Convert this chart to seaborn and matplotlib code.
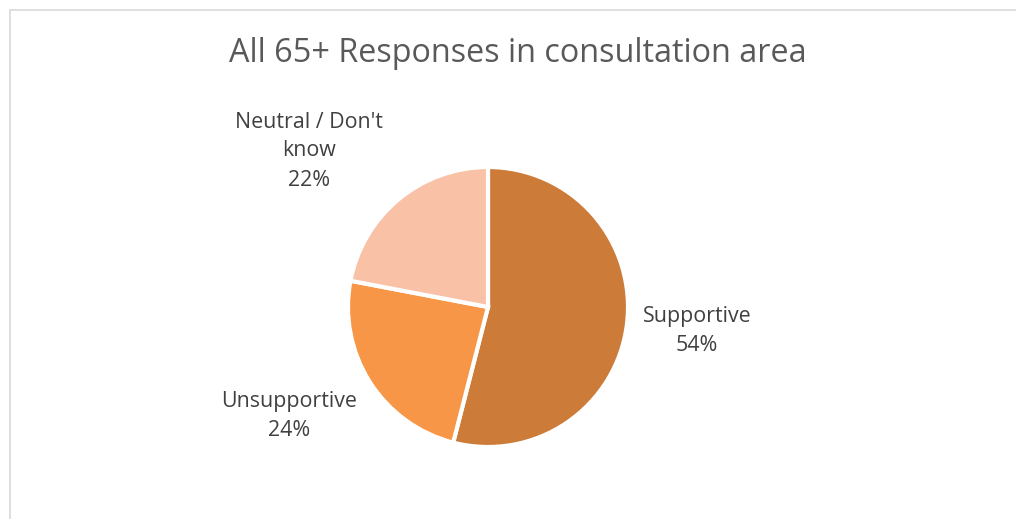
import matplotlib
matplotlib.use("Agg")
import matplotlib.pyplot as plt
from matplotlib.patches import Rectangle
import seaborn as sns

# Survey responses (share of respondents aged 65+)
categories = ["Supportive", "Unsupportive", "Neutral / Don't\nknow"]
shares = [54, 24, 22]
slice_colors = ["#CD7B38", "#F79646", "#F9C2A7"]

sns.set_theme(style="white")
plt.rcParams["font.family"] = ["Open Sans", "DejaVu Sans"]

W, H = 1016, 519
fig = plt.figure(figsize=(W / 100, H / 100), dpi=100)
fig.patch.set_facecolor("white")
ax = fig.add_axes([0, 0, 1, 1])

# Pie in pixel coordinates (y measured from the bottom)
cx, cy, r = 488, H - 307, 140
wedges, _ = ax.pie(
    shares,
    colors=slice_colors,
    startangle=90,
    counterclock=False,
    center=(cx, cy),
    radius=r,
    wedgeprops=dict(edgecolor="white", linewidth=3),
    frame=True,
)
ax.set_xlim(0, W)
ax.set_ylim(0, H)
ax.set_aspect("equal")
ax.set_axis_off()

# Data labels: category name and percentage
label_pos = [(697, H - 331), (289, H - 416), (309, H - 151)]
for name, val, (lx, ly) in zip(categories, shares, label_pos):
    ax.text(lx, ly, f"{name}\n{val}%", ha="center", va="center",
            fontsize=15.4, color="#404040", linespacing=1.5)

# Title
ax.text(518, H - 54, "All 65+ Responses in consultation area",
        ha="center", va="center", fontsize=23.3, color="#595959")

# Chart area border
ax.add_patch(Rectangle((9.5, -20), W + 20, H - 9.5 + 20, fill=False,
                       edgecolor="#D9D9D9", linewidth=1.2, clip_on=False))

fig.savefig("out.png", dpi=100, facecolor="white")
